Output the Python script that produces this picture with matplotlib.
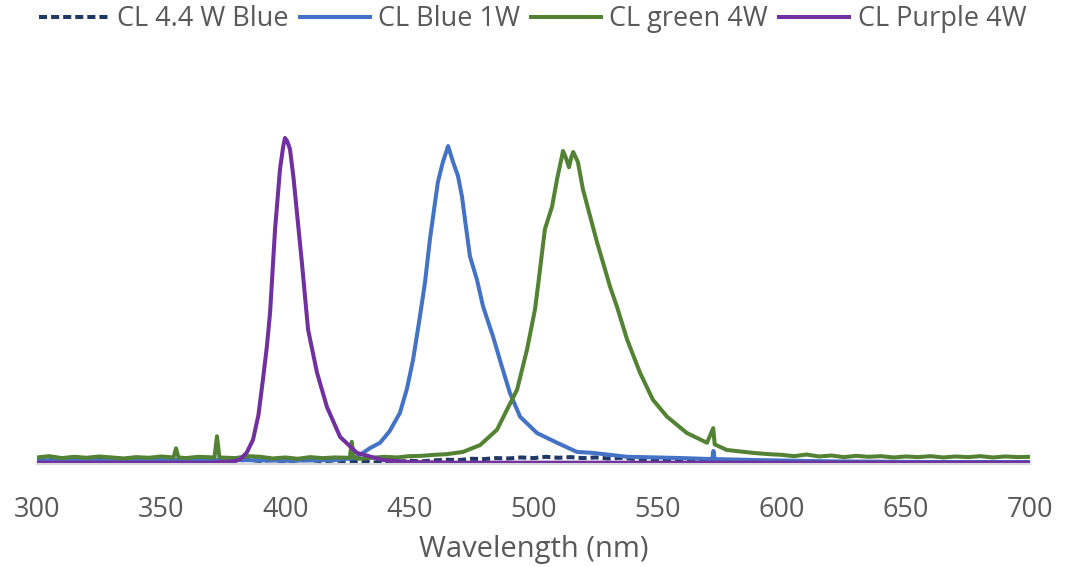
import matplotlib.pyplot as plt

plt.rcParams['font.family'] = ['Open Sans', 'DejaVu Sans']

# --- spectra (wavelength nm, relative intensity) ---
navy_wl = [300, 305, 310, 315, 320, 325, 330, 335, 340, 345, 350, 355, 360, 365, 370,
           375, 380, 385, 390, 395, 400, 405, 410, 415, 420, 425, 430, 435, 440, 445,
           450, 455, 460, 465, 470, 475, 480, 485, 490, 495, 500, 505, 510, 515, 520,
           525, 530, 535, 540, 545, 550, 555, 560, 570, 580, 590, 600, 620, 640, 660,
           680, 700]
navy_val = [0.012, 0.015, 0.009, 0.014, 0.010, 0.013, 0.008, 0.014, 0.010, 0.013, 0.009,
            0.012, 0.010, 0.013, 0.009, 0.012, 0.010, 0.013, 0.009, 0.012, 0.008, 0.011,
            0.012, 0.008, 0.011, 0.007, 0.010, 0.004, 0.008, 0.006, 0.010, 0.008, 0.011,
            0.013, 0.012, 0.016, 0.015, 0.018, 0.017, 0.020, 0.018, 0.022, 0.019, 0.021,
            0.018, 0.020, 0.017, 0.019, 0.016, 0.015, 0.013, 0.012, 0.011, 0.008, 0.005,
            0.003, 0.002, 0.003, 0.002, 0.003, 0.002, 0.003]

blue_wl = [300, 320, 340, 360, 380, 400, 420, 428, 431.3, 434, 438.2, 442, 446.2, 449,
           451.5, 454, 456.3, 458.3, 460.3, 461.5, 463.5, 465.6, 467.6, 469.6, 471.2,
           472.4, 474.4, 477.2, 479.7, 483.7, 487.3, 490.5, 494.6, 501.4, 509.5, 517.5,
           524, 537.7, 550, 560, 572, 572.5, 573, 590, 620, 660, 700]
blue_val = [0.012, 0.010, 0.013, 0.011, 0.012, 0.010, 0.012, 0.018, 0.034, 0.048, 0.065,
            0.10, 0.157, 0.23, 0.32, 0.44, 0.557, 0.69, 0.80, 0.865, 0.926, 0.975, 0.926,
            0.883, 0.82, 0.75, 0.637, 0.566, 0.483, 0.391, 0.298, 0.218, 0.145, 0.095,
            0.065, 0.037, 0.034, 0.022, 0.020, 0.018, 0.015, 0.04, 0.015, 0.012, 0.008,
            0.006, 0.006]

green_wl = [300, 305, 310, 315, 320, 325, 330, 335, 340, 345, 350, 355, 356, 357, 360,
            365, 371.5, 372.5, 373.5, 380, 385, 390, 395, 400, 405, 410, 415, 420, 426,
            426.8, 427.6, 430, 435, 440, 445, 450, 455, 460, 465, 471.6, 478.5, 485.3,
            489.3, 493.4, 497.4, 500.6, 501.8, 504.6, 507.5, 509.5, 511.5, 511.9, 513,
            514.3, 515.2, 516, 517.9, 519.9, 522.8, 525.6, 528, 530.8, 533.6, 537.7,
            542.9, 548.1, 553.8, 561.8, 569.9, 572.4, 573, 577.9, 588.4, 595, 600, 605,
            610, 615, 620, 625, 630, 635, 640, 645, 650, 655, 660, 665, 670, 675, 680,
            685, 690, 695, 700]
green_val = [0.020, 0.024, 0.018, 0.022, 0.019, 0.023, 0.020, 0.017, 0.021, 0.019, 0.023,
             0.020, 0.048, 0.020, 0.018, 0.022, 0.020, 0.085, 0.020, 0.018, 0.024, 0.022,
             0.017, 0.020, 0.016, 0.021, 0.018, 0.020, 0.019, 0.068, 0.020, 0.016, 0.019,
             0.022, 0.020, 0.024, 0.025, 0.028, 0.030, 0.037, 0.058, 0.105, 0.166, 0.228,
             0.351, 0.474, 0.545, 0.72, 0.79, 0.874, 0.945, 0.96, 0.94, 0.91, 0.94, 0.957,
             0.926, 0.843, 0.76, 0.68, 0.618, 0.545, 0.483, 0.382, 0.28, 0.197, 0.145,
             0.095, 0.065, 0.11, 0.060, 0.043, 0.034, 0.030, 0.028, 0.024, 0.029, 0.023,
             0.026, 0.021, 0.025, 0.022, 0.024, 0.020, 0.023, 0.021, 0.024, 0.020, 0.023,
             0.021, 0.024, 0.020, 0.023, 0.021, 0.022]

purple_wl = [300, 370, 379, 381.8, 384.5, 387.0, 389.2, 391.0, 392.6, 393.9, 395.9,
             397.9, 399.2, 399.9, 400.8, 401.9, 403.3, 404.7, 406.7, 409.2, 412.8,
             416.8, 422.1, 428.9, 439.4, 450, 470, 700]
purple_val = [0.004, 0.004, 0.008, 0.014, 0.035, 0.074, 0.15, 0.258, 0.36, 0.465, 0.72,
              0.905, 0.975, 1.0, 0.99, 0.966, 0.88, 0.772, 0.618, 0.412, 0.28, 0.175,
              0.083, 0.034, 0.012, 0.006, 0.004, 0.004]

x_ticks = [300, 350, 400, 450, 500, 550, 600, 650, 700]

fig = plt.figure(figsize=(10.69, 5.67), dpi=100)
ax = fig.add_axes([0.0346, 0.1817, 0.9289, 0.713])

lw = 2.9
ax.plot(navy_wl, navy_val, color='#203864', lw=lw, ls=(0, (2, 1)), label='CL 4.4 W Blue')
ax.plot(blue_wl, blue_val, color='#4472C4', lw=lw, label='CL Blue 1W')
ax.plot(green_wl, green_val, color='#548235', lw=lw, label='CL green 4W')
ax.plot(purple_wl, purple_val, color='#7030A0', lw=lw, label='CL Purple 4W')

ax.set_xlim(300, 700)
ax.set_ylim(0, 1.24)
ax.set_xticks(x_ticks)
ax.set_yticks([])
for side in ['top', 'right', 'left']:
    ax.spines[side].set_visible(False)
ax.spines['bottom'].set_color('#D9D9D9')
ax.spines['bottom'].set_linewidth(1.5)
ax.tick_params(axis='x', length=0, pad=23, labelsize=19.5, labelcolor='#595959')
ax.set_xlabel('Wavelength (nm)', fontsize=21, color='#595959', labelpad=8)

fig.legend(loc='center', bbox_to_anchor=(0.498, 0.966), ncol=4, frameon=False,
           fontsize=19.5, handlelength=2.6, handletextpad=0.3, columnspacing=0.4,
           labelcolor='#595959')

fig.savefig('out.png', dpi=100)
